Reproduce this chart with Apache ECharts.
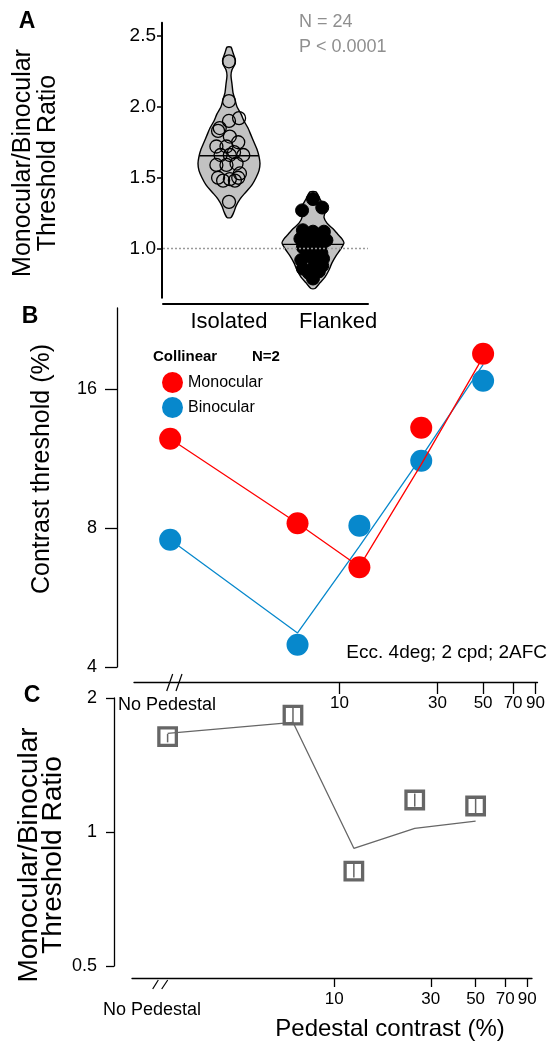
<!DOCTYPE html>
<html><head><meta charset="utf-8">
<script src="https://cdn.jsdelivr.net/npm/echarts@6/dist/echarts.min.js"></script>
<style>html,body{margin:0;padding:0;background:#fff}#c{width:548px;height:1042px}</style>
</head><body><div id="c"></div>
<script>
// ---------- Panel A data ----------
const groupsA = ['Isolated', 'Flanked'];
const groupLabelPosA = [1, 2.3];
const yTicksA = [1.0, 1.5, 2.0, 2.5];
const isolatedRatios = [2.32, 2.04, 1.92, 1.90, 1.85, 1.83, 1.79, 1.75, 1.72, 1.72, 1.68, 1.66, 1.66, 1.66, 1.59, 1.59, 1.60, 1.53, 1.50, 1.49, 1.48, 1.48, 1.50, 1.33];
const isolatedJitter = [0, 0, 0.12, 0, -0.11, -0.13, 0.01, 0.11, -0.15, -0.03, 0.06, -0.10, 0.01, 0.17, -0.15, -0.03, 0.09, 0.13, -0.13, 0.01, -0.07, 0.07, 0.11, 0];
const flankedRatios = [1.35, 1.29, 1.27, 1.13, 1.12, 1.12, 1.10, 1.09, 1.07, 1.06, 1.04, 1.03, 1.01, 0.99, 0.97, 0.95, 0.93, 0.92, 0.90, 0.88, 0.86, 0.84, 0.83, 0.79];
const flankedJitter = [0, 0.11, -0.13, -0.12, 0.0, 0.13, -0.07, 0.07, -0.15, 0.16, -0.04, 0.10, -0.12, 0.04, 0.10, -0.05, 0.12, -0.14, 0.02, 0.11, -0.12, 0.07, -0.05, 0.0];
const isolatedViolinLevels = [1.22, 1.26, 1.30, 1.35, 1.40, 1.45, 1.50, 1.55, 1.60, 1.65, 1.70, 1.75, 1.80, 1.85, 1.90, 1.95, 2.00, 2.05, 2.10, 2.16, 2.22, 2.26, 2.30, 2.34, 2.38, 2.42];
const isolatedViolinDensity = [2, 5, 7, 11, 17, 23, 27, 30, 31, 30, 28, 25, 22, 19, 15, 12, 8, 6, 4, 3, 2, 3, 6, 6, 4, 2];
const flankedViolinLevels = [0.72, 0.76, 0.80, 0.85, 0.90, 0.95, 1.00, 1.04, 1.07, 1.10, 1.14, 1.18, 1.22, 1.26, 1.30, 1.35, 1.40];
const flankedViolinDensity = [2, 7, 12, 16, 19, 23, 28, 31, 29, 25, 20, 14, 11, 12, 11, 7, 3];
const mediansA = [1.655, 1.03];

// ---------- Panel B data ----------
const pedestalContrast = [1.5, 6.25, 12.5, 25, 50]; // first = "No Pedestal" position
const xTicksBC = [10, 30, 50, 70, 90];
const yTicksB = [4, 8, 16];
const monocularThreshold = [12.5, 8.2, 6.58, 13.2, 19.1];
const binocularThreshold = [7.55, 4.47, 8.1, 11.2, 16.7];
const monocularFit = [12.5, 8.2, 6.6, 11.0, 18.8];
const binocularFit = [7.55, 4.74, 7.3, 11.4, 18.1];

// ---------- Panel C data ----------
const yTicksC = [0.5, 1, 2];
const thresholdRatio = [1.637, 1.83, 0.817, 1.18, 1.144];
const ratioErrLow = [1.59, 1.76, 0.79, 1.14, 1.10];
const ratioErrHigh = [1.66, 1.90, 0.85, 1.22, 1.19];
const ratioFit = [1.666, 1.764, 0.919, 1.019, 1.058];

const FONT = '"Liberation Sans", Arial, Helvetica, sans-serif';
const RED = '#ff0000', BLUE = '#0788cc', GRAY = '#666666';
const VIOLIN_HALF = 0.369;

const zip = (a, b) => a.map((v, i) => [v, b[i]]);

const violins = [
  {levels: isolatedViolinLevels, dens: isolatedViolinDensity, median: mediansA[0]},
  {levels: flankedViolinLevels, dens: flankedViolinDensity, median: mediansA[1]}
];

function widthAt(v, level) {
  const L = v.levels, D = v.dens, m = Math.max.apply(null, D);
  for (let i = 0; i < L.length - 1; i++) {
    if (level >= L[i] && level <= L[i + 1]) {
      const t = (level - L[i]) / (L[i + 1] - L[i]);
      return (D[i] + t * (D[i + 1] - D[i])) / m * VIOLIN_HALF;
    }
  }
  return 0;
}

function renderViolin(params, api) {
  const v = violins[params.dataIndex];
  const cx = api.value(0);
  const m = Math.max.apply(null, v.dens);
  const right = [], left = [];
  v.levels.forEach((lv, i) => {
    const w = v.dens[i] / m * VIOLIN_HALF;
    right.push(api.coord([cx + w, lv]));
    left.push(api.coord([cx - w, lv]));
  });
  const pts = right.concat(left.reverse());
  const mw = widthAt(v, v.median);
  const a = api.coord([cx - mw, v.median]), b = api.coord([cx + mw, v.median]);
  return {
    type: 'group',
    children: [
      {type: 'polygon', shape: {points: pts, smooth: 0.25}, style: {fill: '#c2c2c2', stroke: '#000', lineWidth: 1.4}},
      {type: 'line', shape: {x1: a[0], y1: a[1], x2: b[0], y2: b[1]}, style: {stroke: '#000', lineWidth: 1.3}}
    ]
  };
}

function renderErr(params, api) {
  const p1 = api.coord([api.value(0), api.value(1)]);
  const p2 = api.coord([api.value(0), api.value(2)]);
  return {type: 'line', shape: {x1: p1[0], y1: p1[1], x2: p2[0], y2: p2[1]}, style: {stroke: GRAY, lineWidth: 1.5}};
}

const axisBlack = w => ({show: true, lineStyle: {color: '#000', width: w}});
const tick = (len, vals, w) => ({show: true, length: len, customValues: vals, lineStyle: {color: '#000', width: w}});

const option = {
  animation: false,
  backgroundColor: '#fff',
  textStyle: {fontFamily: FONT},
  grid: [
    {left: 163, top: 22.7, width: 205, height: 275},
    {left: 134, top: 308, width: 406, height: 359},
    {left: 132, top: 698, width: 400, height: 268}
  ],
  xAxis: [
    {gridIndex: 0, type: 'value', min: 0.2143, max: 2.655, offset: 6,
     axisLine: axisBlack(2), axisTick: {show: false}, splitLine: {show: false},
     axisLabel: {customValues: groupLabelPosA, formatter: v => groupsA[Math.round(v) - 1],
                 fontSize: 22, color: '#000', margin: 7, fontFamily: FONT}},
    {gridIndex: 1, type: 'log', logBase: 10, min: 1, max: 92, offset: 15,
     axisLine: axisBlack(1.3), axisTick: tick(12, xTicksBC, 1.3), splitLine: {show: false},
     axisLabel: {customValues: xTicksBC, formatter: v => String(Math.round(v)), fontSize: 17, color: '#000', margin: 13, fontFamily: FONT}},
    {gridIndex: 2, type: 'log', logBase: 10, min: 1, max: 95, offset: 12,
     axisLine: axisBlack(1.3), axisTick: tick(9, xTicksBC, 1.3), splitLine: {show: false},
     axisLabel: {customValues: xTicksBC, formatter: v => String(Math.round(v)), fontSize: 17, color: '#000', margin: 13, fontFamily: FONT}}
  ],
  yAxis: [
    {gridIndex: 0, type: 'value', min: 0.655, max: 2.592, offset: 1,
     axisLine: axisBlack(2), axisTick: tick(5, yTicksA, 1.5), splitLine: {show: false},
     axisLabel: {customValues: yTicksA, formatter: v => v.toFixed(1), fontSize: 19, color: '#000', margin: 6, fontFamily: FONT}},
    {gridIndex: 1, type: 'log', logBase: 2, min: 4, max: 24, offset: 17,
     axisLine: axisBlack(1.3), axisTick: tick(12, yTicksB, 1.3), splitLine: {show: false},
     axisLabel: {customValues: yTicksB, formatter: v => String(Math.round(v)), fontSize: 18, color: '#000', margin: 20, fontFamily: FONT}},
    {gridIndex: 2, type: 'log', logBase: 2, min: 0.5, max: 2, offset: 18,
     axisLine: axisBlack(1.3), axisTick: tick(8, yTicksC, 1.3), splitLine: {show: false},
     axisLabel: {customValues: yTicksC, formatter: v => String(v), fontSize: 18, color: '#000', margin: 17, fontFamily: FONT}}
  ],
  legend: {
    data: ['Monocular', 'Binocular'], orient: 'vertical', left: 157, top: 367,
    itemWidth: 21, itemHeight: 21, itemGap: 4, icon: 'circle', selectedMode: false,
    textStyle: {fontSize: 16, color: '#000', fontFamily: FONT}
  },
  series: [
    // Panel A
    {type: 'line', xAxisIndex: 0, yAxisIndex: 0, data: [], z: 0, silent: true,
     markLine: {silent: true, symbol: 'none', label: {show: false},
                lineStyle: {type: [2, 2], color: '#9a9a9a', width: 1.3}, data: [{yAxis: 1}]}},
    {type: 'custom', xAxisIndex: 0, yAxisIndex: 0, z: 1, renderItem: renderViolin,
     data: [[1, 1.5], [2, 1.0]], encode: {x: 0, y: 1}},
    {type: 'scatter', xAxisIndex: 0, yAxisIndex: 0, z: 3, symbol: 'circle', symbolSize: 13,
     itemStyle: {color: 'rgba(0,0,0,0)', borderColor: '#000', borderWidth: 1.3, opacity: 1},
     data: isolatedRatios.map((v, i) => [1 + isolatedJitter[i], v])},
    {type: 'scatter', xAxisIndex: 0, yAxisIndex: 0, z: 3, symbol: 'circle', symbolSize: 13,
     itemStyle: {color: '#000', borderColor: '#000', borderWidth: 1, opacity: 1},
     data: flankedRatios.map((v, i) => [2 + flankedJitter[i], v])},
    // Panel B
    {name: 'Binocular fit', type: 'line', xAxisIndex: 1, yAxisIndex: 1, z: 2, showSymbol: false,
     lineStyle: {color: BLUE, width: 1.3}, data: zip(pedestalContrast, binocularFit)},
    {name: 'Binocular', type: 'scatter', xAxisIndex: 1, yAxisIndex: 1, z: 3, symbolSize: 22,
     itemStyle: {color: BLUE, opacity: 1}, data: zip(pedestalContrast, binocularThreshold)},
    {name: 'Monocular fit', type: 'line', xAxisIndex: 1, yAxisIndex: 1, z: 4, showSymbol: false,
     lineStyle: {color: RED, width: 1.3}, data: zip(pedestalContrast, monocularFit)},
    {name: 'Monocular', type: 'scatter', xAxisIndex: 1, yAxisIndex: 1, z: 5, symbolSize: 22,
     itemStyle: {color: RED, opacity: 1}, data: zip(pedestalContrast, monocularThreshold)},
    // Panel C
    {type: 'line', xAxisIndex: 2, yAxisIndex: 2, z: 2, showSymbol: false,
     lineStyle: {color: GRAY, width: 1.3}, data: zip(pedestalContrast, ratioFit)},
    {type: 'custom', xAxisIndex: 2, yAxisIndex: 2, z: 3, renderItem: renderErr,
     encode: {x: 0, y: [1, 2]},
     data: pedestalContrast.map((x, i) => [x, ratioErrLow[i], ratioErrHigh[i]])},
    {type: 'scatter', xAxisIndex: 2, yAxisIndex: 2, z: 4, symbol: 'rect', symbolSize: 17.5,
     itemStyle: {color: 'rgba(0,0,0,0)', borderColor: GRAY, borderWidth: 3.3, opacity: 1},
     data: zip(pedestalContrast, thresholdRatio)}
  ],
  graphic: [
    {type: 'text', x: 27, y: 22, style: {text: 'A', font: 'bold 23px ' + FONT, fill: '#000', textAlign: 'center', textVerticalAlign: 'middle'}},
    {type: 'text', x: 30, y: 317, style: {text: 'B', font: 'bold 23px ' + FONT, fill: '#000', textAlign: 'center', textVerticalAlign: 'middle'}},
    {type: 'text', x: 32, y: 696, style: {text: 'C', font: 'bold 23px ' + FONT, fill: '#000', textAlign: 'center', textVerticalAlign: 'middle'}},
    {type: 'text', x: 299, y: 22, style: {text: 'N = 24', font: '18px ' + FONT, fill: '#8f8f8f', textAlign: 'left', textVerticalAlign: 'middle'}},
    {type: 'text', x: 299, y: 47, style: {text: 'P < 0.0001', font: '18px ' + FONT, fill: '#8f8f8f', textAlign: 'left', textVerticalAlign: 'middle'}},
    {type: 'text', x: 36, y: 163, rotation: Math.PI / 2,
     style: {text: 'Monocular/Binocular\nThreshold Ratio', font: '25px ' + FONT, lineHeight: 25, fill: '#000', textAlign: 'center', textVerticalAlign: 'middle'}},
    {type: 'text', x: 42, y: 469, rotation: Math.PI / 2,
     style: {text: 'Contrast threshold (%)', font: '25px ' + FONT, fill: '#000', textAlign: 'center', textVerticalAlign: 'middle'}},
    {type: 'text', x: 41, y: 855, rotation: Math.PI / 2,
     style: {text: 'Monocular/Binocular\nThreshold Ratio', font: '28px ' + FONT, lineHeight: 24, fill: '#000', textAlign: 'center', textVerticalAlign: 'middle'}},
    {type: 'text', x: 153, y: 357, style: {text: 'Collinear', font: 'bold 15px ' + FONT, fill: '#000', textAlign: 'left', textVerticalAlign: 'middle'}},
    {type: 'text', x: 252, y: 357, style: {text: 'N=2', font: 'bold 15px ' + FONT, fill: '#000', textAlign: 'left', textVerticalAlign: 'middle'}},
    {type: 'text', x: 547, y: 653, style: {text: 'Ecc. 4deg; 2 cpd; 2AFC', font: '19px ' + FONT, fill: '#000', textAlign: 'right', textVerticalAlign: 'middle'}},
    {type: 'text', x: 118, y: 705, style: {text: 'No Pedestal', font: '18px ' + FONT, fill: '#000', textAlign: 'left', textVerticalAlign: 'middle'}},
    {type: 'text', x: 103, y: 1010, style: {text: 'No Pedestal', font: '18px ' + FONT, fill: '#000', textAlign: 'left', textVerticalAlign: 'middle'}},
    {type: 'text', x: 390, y: 1029, style: {text: 'Pedestal contrast (%)', font: '24px ' + FONT, fill: '#000', textAlign: 'center', textVerticalAlign: 'middle'}},
    {type: 'polyline', shape: {points: [[166.7, 691], [172.7, 674]]}, style: {stroke: '#000', lineWidth: 1.2}},
    {type: 'polyline', shape: {points: [[176, 691], [182, 674]]}, style: {stroke: '#000', lineWidth: 1.2}},
    {type: 'polyline', shape: {points: [[152.7, 989], [158.3, 980]]}, style: {stroke: '#000', lineWidth: 1.2}},
    {type: 'polyline', shape: {points: [[161.7, 989], [167.7, 980]]}, style: {stroke: '#000', lineWidth: 1.2}}
  ]
};

const chart = echarts.init(document.getElementById('c'), null, {renderer: 'canvas', width: 548, height: 1042});
chart.setOption(option);
</script>
</body></html>
